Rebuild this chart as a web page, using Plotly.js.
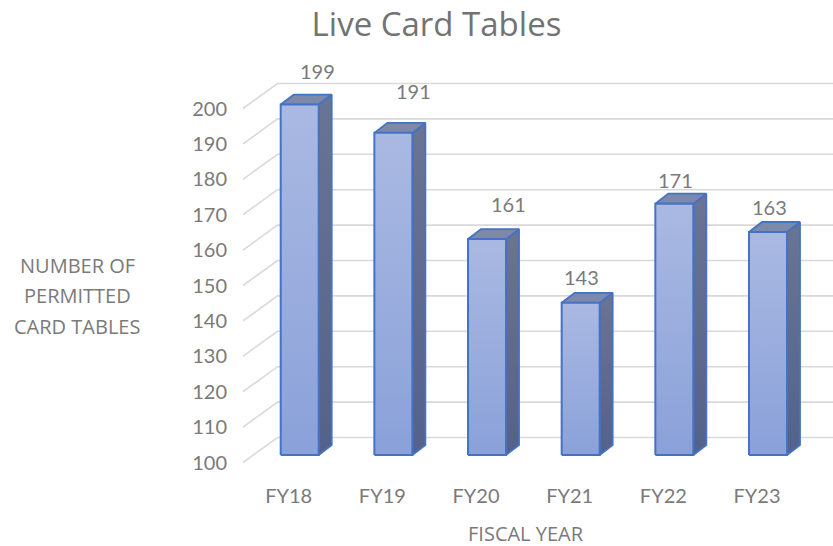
<!DOCTYPE html>
<html>
<head>
<meta charset="utf-8">
<script src="https://cdn.plot.ly/plotly-3.0.1.min.js"></script>
<style>html,body{margin:0;padding:0;background:#fff;}#chart{width:833px;height:546px;}</style>
</head>
<body>
<div id="chart"></div>
<script>
// ---- data ----
const categories = ['FY18', 'FY19', 'FY20', 'FY21', 'FY22', 'FY23'];
const tables = [199, 191, 161, 143, 171, 163];
const yTicks = [100, 110, 120, 130, 140, 150, 160, 170, 180, 190, 200];
const yTitleLines = ['NUMBER OF', 'PERMITTED', 'CARD TABLES'];

// ---- styling / geometry (pixel based) ----
const PX_X = 93.66;          // px per category unit
const PX_Y = 3.54;           // px per value unit
const BASE = 100;
const barW = 38 / PX_X;
const depthX = 13 / PX_X, depthY = 10 / PX_Y;
const wallFrontX = (243 - 299.7) / PX_X, wallFrontDY = -7.5 / PX_Y;
const wallBackX = (277.5 - 299.7) / PX_X, wallBackDY = 17.5 / PX_Y;
const mLeft = 240, mTop = 60, mBot = 76;
const plotH = 546 - mTop - mBot, plotW = 833 - mLeft;
const xMin = (mLeft - 299.7) / PX_X, xMax = (833 - 299.7) / PX_X;
const yMin = BASE - (546 - mBot - 455) / PX_Y;
const yMax = BASE + (455 - mTop) / PX_Y;
const labelXShift = [18, 20, 21, 1, 1, 1];
const labelYShift = [34, 42, 35, 26, 24, 25];
const textColor = '#7a7a7a';
const edge = '#4472c4';
const pxToPaperX = px => (px - mLeft) / plotW;
const pxToPaperY = py => (546 - mBot - py) / plotH;

const traces = [];
// back wall + side wall gridlines
const gx = [], gy = [];
yTicks.forEach(v => {
  gx.push(wallFrontX, wallBackX, xMax, null);
  gy.push(v + wallFrontDY, v + wallBackDY, v + wallBackDY, null);
});
traces.push({type: 'scatter', mode: 'lines', x: gx, y: gy, line: {color: '#d9d9d9', width: 1.6}, hoverinfo: 'skip', showlegend: false});

tables.forEach((v, i) => {
  const l = i - barW / 2, r = i + barW / 2;
  // side face
  traces.push({type: 'scatter', mode: 'lines', fill: 'toself',
    x: [r, r + depthX, r + depthX, r, r], y: [BASE, BASE + depthY, v + depthY, v, BASE],
    fillgradient: {type: 'vertical', colorscale: [[0, '#54618a'], [1, '#6a7493']]},
    line: {color: edge, width: 1.8}, hoverinfo: 'skip', showlegend: false});
  // top face
  traces.push({type: 'scatter', mode: 'lines', fill: 'toself',
    x: [l, r, r + depthX, l + depthX, l], y: [v, v, v + depthY, v + depthY, v],
    fillcolor: '#7d89ab', line: {color: edge, width: 1.8}, hoverinfo: 'skip', showlegend: false});
  // front face
  traces.push({type: 'scatter', mode: 'lines', fill: 'toself', name: categories[i],
    x: [l, r, r, l, l], y: [BASE, BASE, v, v, BASE],
    fillgradient: {type: 'vertical', colorscale: [[0, '#8aa1d9'], [1, '#aab9e2']]},
    line: {color: edge, width: 2}, hoverinfo: 'skip', showlegend: false});
});

const annotations = tables.map((v, i) => ({
  x: i, y: v, xref: 'x', yref: 'y', text: String(v), showarrow: false,
  xshift: labelXShift[i], yshift: labelYShift[i], xanchor: 'center', yanchor: 'middle',
  font: {family: 'Lato, sans-serif', size: 20, color: textColor}
}));
const yTitleRows = [265, 295.5, 326];
yTitleLines.forEach((t, k) => annotations.push({
  x: pxToPaperX(77), y: pxToPaperY(yTitleRows[k]), xref: 'paper', yref: 'paper',
  text: t, showarrow: false, xanchor: 'center', yanchor: 'middle',
  font: {family: '"Open Sans", sans-serif', size: 20, color: textColor}
}));
annotations.push({
  x: pxToPaperX(526), y: pxToPaperY(533), xref: 'paper', yref: 'paper', showarrow: false,
  text: 'FISCAL YEAR', xanchor: 'center', yanchor: 'middle',
  font: {family: '"Open Sans", sans-serif', size: 20, color: textColor}
});

const layout = {
  width: 833, height: 546,
  margin: {l: mLeft, r: 0, t: mTop, b: mBot, pad: 0},
  paper_bgcolor: '#ffffff', plot_bgcolor: '#ffffff',
  title: {text: 'Live Card Tables', x: 436.5 / 833, xref: 'container', xanchor: 'center',
    y: 1 - 24 / 546, yref: 'container', yanchor: 'middle',
    font: {family: '"Open Sans", sans-serif', size: 33, color: '#737373'}},
  xaxis: {range: [xMin, xMax], showgrid: false, zeroline: false, showline: false, ticks: '',
    tickvals: categories.map((c, i) => i - 11 / PX_X), ticktext: categories, ticklabelstandoff: 12,
    tickfont: {family: 'Lato, sans-serif', size: 20, color: textColor}, fixedrange: true},
  yaxis: {range: [yMin, yMax], showgrid: false, zeroline: false, showline: false, ticks: '',
    tickvals: yTicks.map(v => v + wallFrontDY), ticktext: yTicks.map(String), ticklabelstandoff: 12,
    tickfont: {family: 'Lato, sans-serif', size: 20, color: textColor}, fixedrange: true},
  annotations: annotations,
  showlegend: false
};

Plotly.newPlot('chart', traces, layout, {displayModeBar: false, staticPlot: true});
</script>
</body>
</html>
